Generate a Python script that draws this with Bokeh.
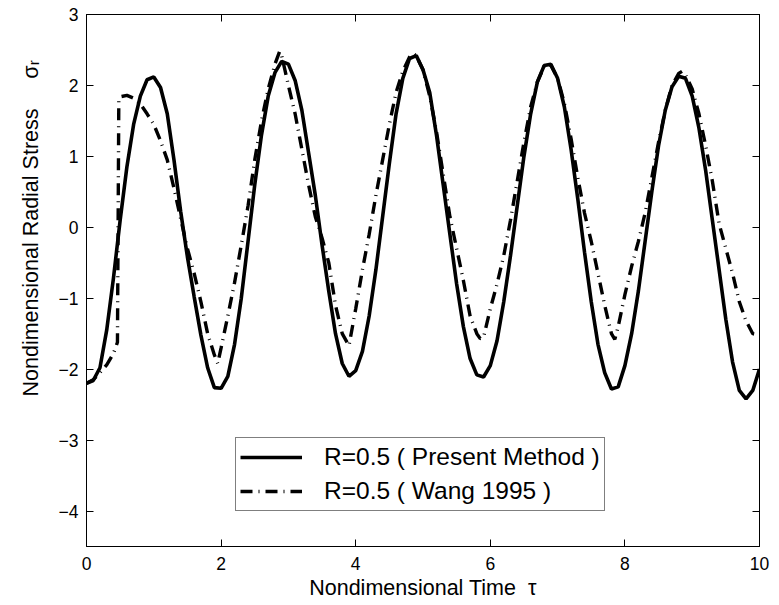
from bokeh.plotting import figure
from bokeh.models import FixedTicker, LinearAxis, Range1d, Legend, LegendItem, Title
from bokeh.embed import file_html
from bokeh.resources import INLINE

# ---- data ----
present_t = [0.0, 0.1, 0.2, 0.3, 0.4, 0.5, 0.6, 0.7, 0.8, 0.9,
             1.0, 1.1, 1.2, 1.3, 1.4, 1.5, 1.6, 1.7, 1.8, 1.9,
             2.0, 2.1, 2.2, 2.3, 2.4, 2.5, 2.6, 2.7, 2.8, 2.9,
             3.0, 3.1, 3.2, 3.3, 3.4, 3.5, 3.6, 3.7, 3.8, 3.9,
             4.0, 4.1, 4.2, 4.3, 4.4, 4.5, 4.6, 4.7, 4.8, 4.9,
             5.0, 5.1, 5.2, 5.3, 5.4, 5.5, 5.6, 5.7, 5.8, 5.9,
             6.0, 6.1, 6.2, 6.3, 6.4, 6.5, 6.6, 6.7, 6.8, 6.9,
             7.0, 7.1, 7.2, 7.3, 7.4, 7.5, 7.6, 7.7, 7.8, 7.9,
             8.0, 8.1, 8.2, 8.3, 8.4, 8.5, 8.6, 8.7, 8.8, 8.9,
             9.0, 9.1, 9.2, 9.3, 9.4, 9.5, 9.6, 9.7, 9.8, 9.9, 10.0]
present_s = [-2.20, -2.16, -1.98, -1.45, -0.72, 0.10, 0.85, 1.45, 1.85, 2.08,
             2.12, 1.97, 1.60, 0.95, 0.22, -0.42, -0.98, -1.52, -1.98, -2.26,
             -2.27, -2.10, -1.65, -1.00, -0.20, 0.60, 1.30, 1.85, 2.18, 2.34,
             2.30, 2.07, 1.65, 1.05, 0.45, -0.25, -0.90, -1.50, -1.92, -2.10,
             -2.02, -1.75, -1.25, -0.60, 0.15, 0.90, 1.60, 2.10, 2.38, 2.42,
             2.22, 1.90, 1.30, 0.60, -0.10, -0.80, -1.40, -1.85, -2.08, -2.11,
             -1.95, -1.60, -1.05, -0.40, 0.30, 1.00, 1.60, 2.05, 2.28, 2.30,
             2.10, 1.70, 1.10, 0.40, -0.35, -1.05, -1.65, -2.05, -2.28, -2.25,
             -1.95, -1.50, -0.90, -0.20, 0.50, 1.15, 1.65, 1.98, 2.13, 2.10,
             1.85, 1.40, 0.80, 0.10, -0.60, -1.30, -1.90, -2.30, -2.42, -2.30, -2.00]

wang_t = [0.0, 0.1, 0.2, 0.3, 0.4, 0.46, 0.48, 0.5, 0.6, 0.7, 0.8, 0.9,
          1.0, 1.1, 1.2, 1.3, 1.4, 1.5, 1.6, 1.7, 1.8, 1.9, 1.95,
          2.0, 2.1, 2.2, 2.3, 2.4, 2.5, 2.6, 2.7, 2.8, 2.87, 2.9,
          3.0, 3.1, 3.2, 3.3, 3.4, 3.5, 3.6, 3.7, 3.8, 3.9,
          4.0, 4.1, 4.2, 4.3, 4.4, 4.5, 4.6, 4.7, 4.8, 4.86, 4.9,
          5.0, 5.1, 5.2, 5.3, 5.4, 5.5, 5.6, 5.7, 5.8, 5.85, 5.9,
          6.0, 6.1, 6.2, 6.3, 6.4, 6.5, 6.6, 6.7, 6.8, 6.86, 6.9,
          7.0, 7.1, 7.2, 7.3, 7.4, 7.5, 7.6, 7.7, 7.8, 7.85, 7.9,
          8.0, 8.1, 8.2, 8.3, 8.4, 8.5, 8.6, 8.7, 8.8, 8.85, 8.9,
          9.0, 9.1, 9.2, 9.3, 9.4, 9.5, 9.6, 9.7, 9.8, 9.9, 10.0]
wang_s = [-2.20, -2.15, -2.05, -1.94, -1.78, -1.62, 1.78, 1.84, 1.86, 1.82, 1.74, 1.60,
          1.45, 1.22, 0.95, 0.55, 0.12, -0.30, -0.65, -1.05, -1.50, -1.80, -1.92,
          -1.70, -1.25, -0.78, -0.25, 0.30, 0.95, 1.50, 1.95, 2.30, 2.48, 2.42,
          2.00, 1.60, 1.10, 0.60, 0.15, -0.15, -0.50, -1.10, -1.50, -1.67,
          -1.15, -0.60, -0.10, 0.45, 0.95, 1.45, 1.90, 2.20, 2.40, 2.45, 2.42,
          2.22, 1.85, 1.35, 0.75, 0.15, -0.30, -0.75, -1.25, -1.50, -1.57, -1.55,
          -1.15, -0.80, -0.40, 0.10, 0.65, 1.20, 1.70, 2.05, 2.27, 2.31, 2.28,
          2.10, 1.75, 1.25, 0.70, 0.20, -0.20, -0.65, -1.10, -1.50, -1.58, -1.40,
          -0.95, -0.55, -0.20, 0.20, 0.70, 1.20, 1.65, 2.00, 2.17, 2.20, 2.15,
          1.95, 1.60, 1.15, 0.65, 0.05, -0.30, -0.65, -1.05, -1.32, -1.50, -1.52]

x_ticks = [0, 2, 4, 6, 8, 10]
x_tick_labels = ["0", "2", "4", "6", "8", "10"]
y_ticks = [-4, -3, -2, -1, 0, 1, 2, 3]
y_tick_labels = ["\u22124", "\u22123", "\u22122", "\u22121", "0", "1", "2", "3"]

series_labels = ["R=0.5 ( Present Method )", "R=0.5 ( Wang 1995 )"]
x_title = "Nondimensional Time\u00a0\u00a0\u03c4"
y_title = "Nondimensional Radial Stress\u00a0\u00a0\u00a0\u00a0\u00a0\u03c3\u1d63"

FONT = "Liberation Sans"

p = figure(width=779, height=605, output_backend="svg", toolbar_location=None,
           x_range=Range1d(0, 10), y_range=Range1d(-4.5, 3),
           min_border_left=86, min_border_right=20, min_border_top=14, min_border_bottom=59)
p.grid.visible = False
p.outline_line_color = "black"
p.outline_line_width = 1
p.background_fill_color = "white"
p.border_fill_color = "white"

r1 = p.line(present_t, present_s, line_color="black", line_width=3.6)
r2 = p.line(wang_t, wang_s, line_color="black", line_width=3.4, line_dash="12 6 1 6")

def style_axis(ax, ticks, labels, show_labels=True):
    ax.ticker = FixedTicker(ticks=ticks)
    ax.major_label_overrides = {t: l for t, l in zip(ticks, labels)}
    ax.major_tick_in = 7
    ax.major_tick_out = 0
    ax.minor_tick_line_color = None
    ax.axis_line_color = "black"
    ax.major_tick_line_color = "black"
    ax.major_label_text_font = FONT
    ax.major_label_text_color = "black"
    if show_labels:
        ax.major_label_text_font_size = "17.5px"
    else:
        ax.major_label_text_font_size = "0px"
        ax.major_label_standoff = 0

style_axis(p.xaxis[0], x_ticks, x_tick_labels)
style_axis(p.yaxis[0], y_ticks, y_tick_labels)
p.xaxis[0].major_label_standoff = 10
p.yaxis[0].major_label_standoff = 8

p.xaxis[0].axis_label = x_title
p.xaxis[0].axis_label_text_font = FONT
p.xaxis[0].axis_label_text_font_size = "21.5px"
p.xaxis[0].axis_label_text_font_style = "normal"
p.xaxis[0].axis_label_text_color = "black"
p.xaxis[0].axis_label_standoff = 3

# y title: vertical title on the left, sitting above the axis centre as in the reference
ytitle = Title(text=y_title, align="left", offset=150, standoff=26,
               text_font=FONT, text_font_size="21.5px", text_font_style="normal",
               text_color="black")
p.add_layout(ytitle, "left")

top_ax = LinearAxis()
right_ax = LinearAxis()
style_axis(top_ax, x_ticks, ["" for _ in x_ticks], show_labels=False)
style_axis(right_ax, y_ticks, ["" for _ in y_ticks], show_labels=False)
p.add_layout(top_ax, "above")
p.add_layout(right_ax, "right")

legend = Legend(items=[LegendItem(label=series_labels[0], renderers=[r1]),
                       LegendItem(label=series_labels[1], renderers=[r2])],
                location=(149, 35))
legend.label_text_font = FONT
legend.label_text_font_size = "24.5px"
legend.label_text_color = "black"
legend.glyph_width = 62
legend.glyph_height = 30
legend.label_height = 30
legend.label_standoff = 22
legend.padding = 4
legend.spacing = 4
legend.margin = 0
legend.border_line_color = "black"
legend.border_line_width = 1.5
legend.background_fill_color = "white"
legend.background_fill_alpha = 1
p.add_layout(legend)

open("out.html", "w").write(file_html(p, INLINE))
